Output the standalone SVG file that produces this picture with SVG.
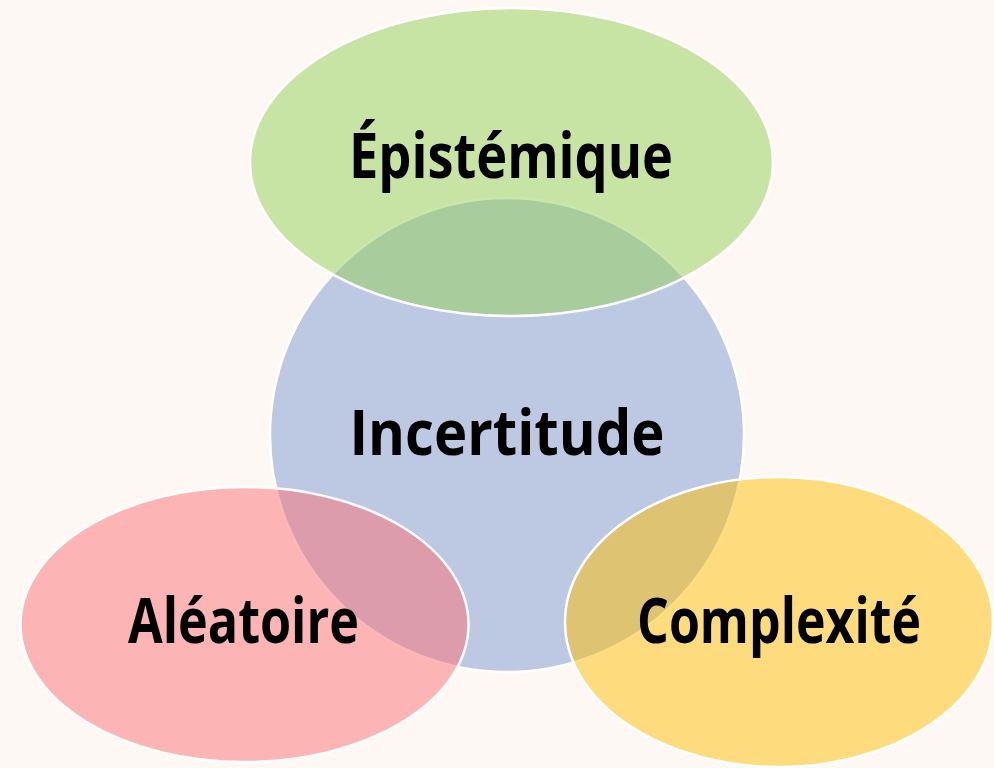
<svg xmlns="http://www.w3.org/2000/svg" width="994" height="768" viewBox="0 0 994 768">
<style>
.shape{stroke:#FFFFFF;stroke-width:2.5}
.lbl{font-family:"Open Sans","Liberation Sans",sans-serif;font-weight:bold;font-size:62px;fill:#000000;text-anchor:middle}
</style>
<rect x="0" y="0" width="994" height="768" fill="#FDF8F4"/>
<g id="incertitude">
<circle class="shape" cx="507" cy="435" r="237" fill="#BDC9E2"/>
</g>
<g id="epistemique">
<ellipse class="shape" cx="511.5" cy="162" rx="261.5" ry="154" fill="rgba(147,208,86,0.5)"/>
</g>
<g id="aleatoire">
<ellipse class="shape" cx="244.5" cy="624.5" rx="224" ry="137.5" fill="rgba(253,112,116,0.5)"/>
</g>
<g id="complexite">
<ellipse class="shape" cx="779" cy="622" rx="214" ry="145" fill="rgba(255,190,4,0.5)"/>
</g>
<g id="labels">
<text class="lbl" x="511" y="178" textLength="324" lengthAdjust="spacingAndGlyphs">Épistémique</text>
<text class="lbl" x="507" y="455" textLength="315" lengthAdjust="spacingAndGlyphs">Incertitude</text>
<text class="lbl" x="243.5" y="643" textLength="231" lengthAdjust="spacingAndGlyphs">Aléatoire</text>
<text class="lbl" x="779" y="643" textLength="284" lengthAdjust="spacingAndGlyphs">Complexité</text>
</g>
<g id="connectors"/>
</svg>
